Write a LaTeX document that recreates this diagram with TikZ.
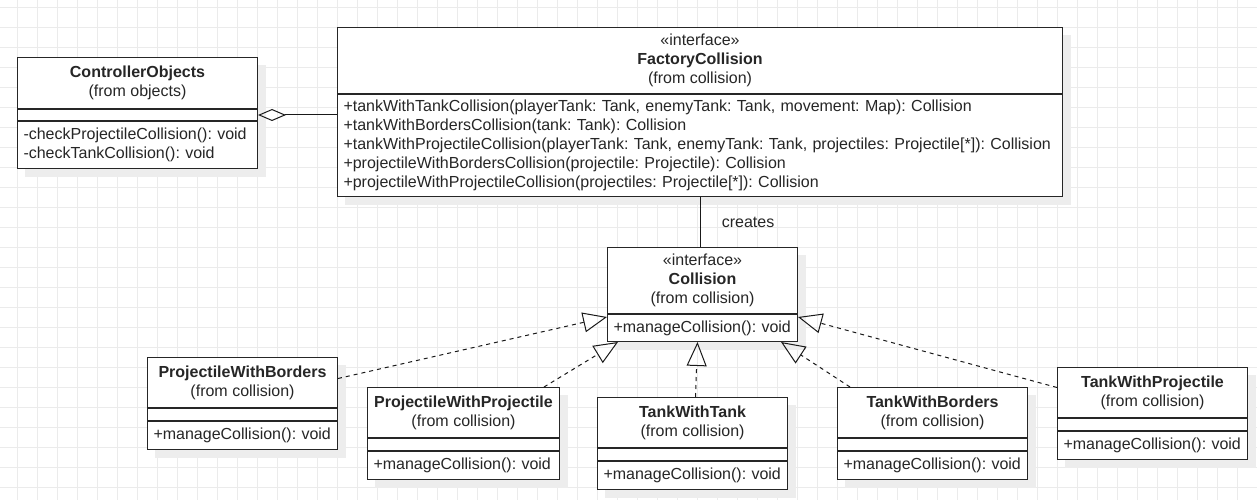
\documentclass[tikz,border=0pt]{standalone}
\usepackage{fontspec}
\setmainfont{Liberation Sans}
\usetikzlibrary{arrows.meta,backgrounds}
\frenchspacing

\tikzset{
  part/.style={draw=black!85, line width=1pt, fill=white, anchor=north west, inner sep=0pt},
  umltext/.style={font=\fontsize{16}{19}\selectfont, text=black!85},
  hdr/.style={part, umltext, align=center},
  ops/.style={part, umltext, align=left, inner xsep=6pt, text width=#1},
  realize/.style={draw=black!90, line width=1pt, dash pattern=on 4pt off 4pt,
    -{Triangle[open,length=24pt,width=20pt,line width=1pt]}},
  aggr/.style={draw=black!90, line width=1pt, {Diamond[open,length=28pt,width=12pt,line width=1pt]}-},
  gridline/.style={draw=black!8, line width=0.8pt},
  shade/.style={fill=black!7}
}

\begin{document}
\begin{tikzpicture}[x=1pt,y=-1pt]
    \useasboundingbox (0,0) rectangle (1257,500);

    % classes
    \node [hdr, minimum width=240pt, minimum height=51pt] (ctrlh) at (17,57) {\textbf{ControllerObjects}\\(from objects)};
    \node [part, minimum width=240pt, minimum height=11pt] (ctrla) at (ctrlh.south west) {};
    \node [ops=228pt, minimum height=47pt] (ctrlm) at (ctrla.south west) {-checkProjectileCollision(): void\\-checkTankCollision(): void};

    \node [hdr, minimum width=725pt, minimum height=66pt] (fch) at (337,27) {«interface»\\\textbf{FactoryCollision}\\(from collision)};
    \node [ops=713pt, minimum height=102pt] (fcm) at (fch.south west) {+tankWithTankCollision(playerTank: Tank, enemyTank: Tank, movement: Map): Collision\\+tankWithBordersCollision(tank: Tank): Collision\\+tankWithProjectileCollision(playerTank: Tank, enemyTank: Tank, projectiles: Projectile[*]): Collision\\+projectileWithBordersCollision(projectile: Projectile): Collision\\+projectileWithProjectileCollision(projectiles: Projectile[*]): Collision};

    \node [hdr, minimum width=190pt, minimum height=66pt] (colh) at (607,247) {«interface»\\\textbf{Collision}\\(from collision)};
    \node [ops=178pt, minimum height=27pt] (colm) at (colh.south west) {+manageCollision(): void};

    \node [hdr, minimum width=190pt, minimum height=50pt] (pwbh) at (147,357) {\textbf{ProjectileWithBorders}\\(from collision)};
    \node [part, minimum width=190pt, minimum height=12pt] (pwba) at (pwbh.south west) {};
    \node [ops=178pt, minimum height=28pt] (pwbm) at (pwba.south west) {+manageCollision(): void};

    \node [hdr, minimum width=192pt, minimum height=50pt] (ppwh) at (367,387) {\textbf{ProjectileWithProjectile}\\(from collision)};
    \node [part, minimum width=192pt, minimum height=12pt] (ppwa) at (ppwh.south west) {};
    \node [ops=180pt, minimum height=28pt] (ppwm) at (ppwa.south west) {+manageCollision(): void};

    \node [hdr, minimum width=190pt, minimum height=50pt] (twth) at (597,397) {\textbf{TankWithTank}\\(from collision)};
    \node [part, minimum width=190pt, minimum height=12pt] (twta) at (twth.south west) {};
    \node [ops=178pt, minimum height=28pt] (twtm) at (twta.south west) {+manageCollision(): void};

    \node [hdr, minimum width=190pt, minimum height=50pt] (twbh) at (837,387) {\textbf{TankWithBorders}\\(from collision)};
    \node [part, minimum width=190pt, minimum height=12pt] (twba) at (twbh.south west) {};
    \node [ops=178pt, minimum height=28pt] (twbm) at (twba.south west) {+manageCollision(): void};

    \node [hdr, minimum width=190pt, minimum height=50pt] (twph) at (1057,367) {\textbf{TankWithProjectile}\\(from collision)};
    \node [part, minimum width=190pt, minimum height=12pt] (twpa) at (twph.south west) {};
    \node [ops=178pt, minimum height=28pt] (twpm) at (twpa.south west) {+manageCollision(): void};

    % grid and shadows
    \begin{scope}[on background layer]
        \foreach \gx in {17,37,...,1257} \draw [gridline] (\gx,0) -- (\gx,500);
        \foreach \gy in {7,27,...,500} \draw [gridline] (0,\gy) -- (1257,\gy);
        \foreach \cls/\bot in {ctrlh/ctrlm,fch/fcm,colh/colm,pwbh/pwbm,ppwh/ppwm,twth/twtm,twbh/twbm,twph/twpm}
            \fill [shade] ([shift={(8,8)}]\cls.north west) rectangle ([shift={(8,8)}]\bot.south east);
    \end{scope}

    % relations
    \draw [aggr] (ctrla.east) -- (ctrla.east -| fcm.west);
    \draw [draw=black!90, line width=1pt] (fcm.south) -- (fcm.south |- colh.north)
        node [midway, right, xshift=18pt, umltext] {creates};
    \draw [realize] ([yshift=4pt]pwbh.east) -- ([yshift=-3pt]colm.north west);
    \draw [realize] ([xshift=-16pt]ppwh.north east) -- ([xshift=11pt]colm.south west);
    \draw [realize] ([xshift=3pt]twth.north) -- ([xshift=-5pt]colm.south);
    \draw [realize] ([xshift=13pt]twbh.north west) -- ([xshift=-17pt]colm.south east);
    \draw [realize] ([yshift=5pt]twph.west) -- ([yshift=-3pt]colm.north east);
\end{tikzpicture}
\end{document}
